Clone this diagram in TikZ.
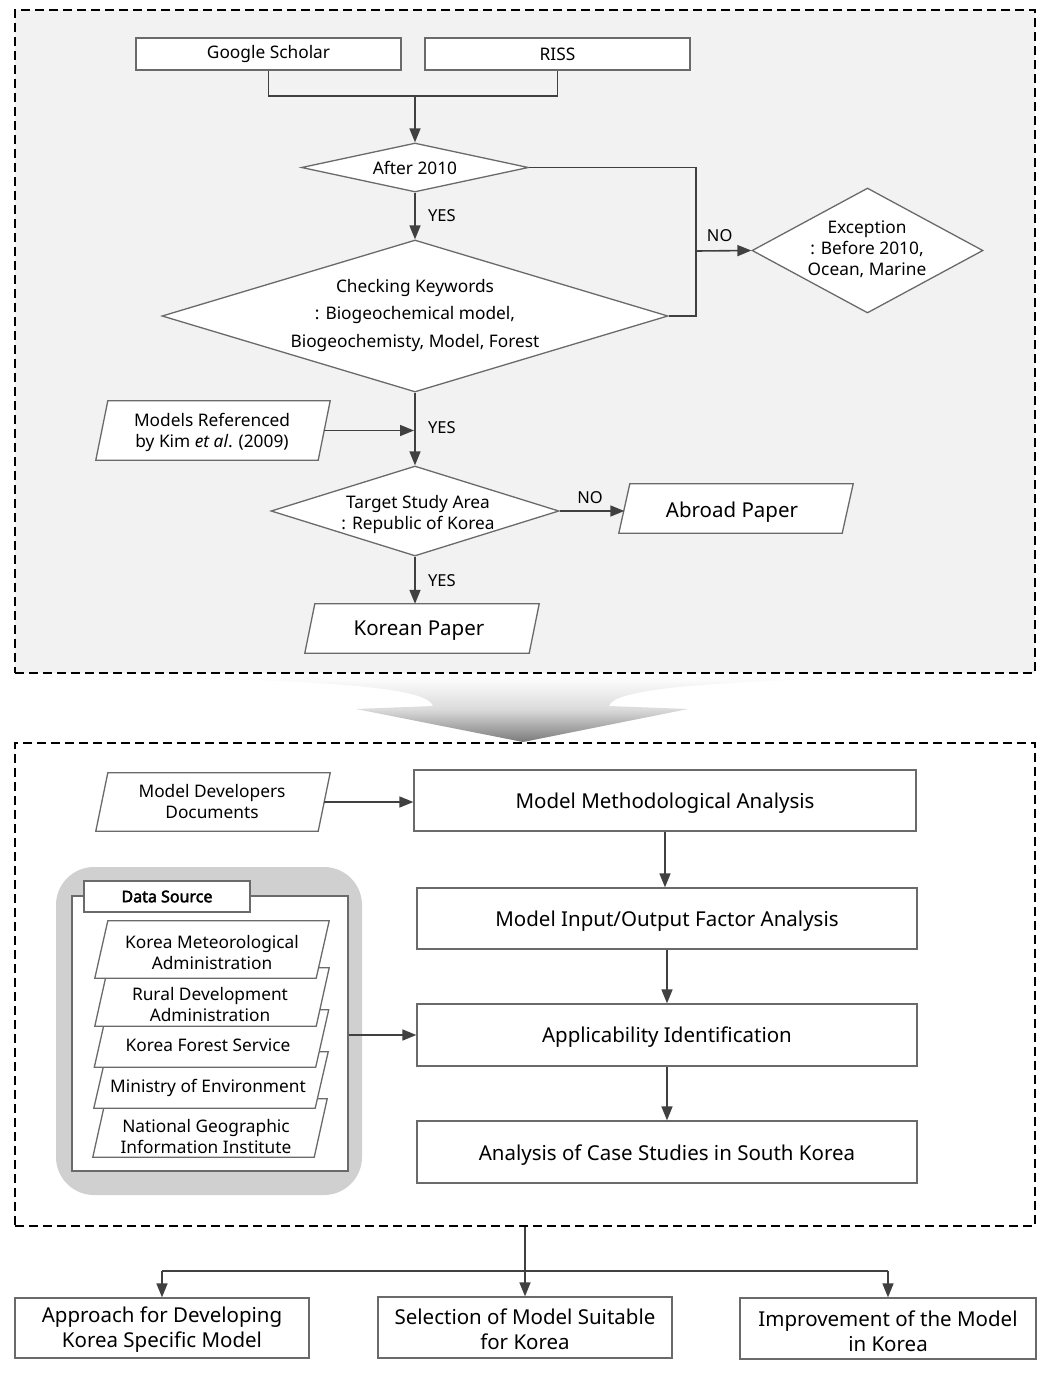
\documentclass[tikz,border=0pt]{standalone}
\usepackage{fontspec}
\setmainfont{Noto Sans}
\newfontfamily\dsbold{Noto Sans}[FakeBold=2.5]
\usetikzlibrary{shapes.geometric,arrows.meta}
\definecolor{topfill}{HTML}{F2F2F2}
\definecolor{dsgray}{HTML}{D0D0D0}
\definecolor{edge}{HTML}{6A6A6A}
\definecolor{arrc}{HTML}{404040}
\newcommand\parashape[2]{%
  \path[pline] ([xshift=#2]#1.north west) -- ([xshift=#2]#1.north east) -- ([xshift=-#2]#1.south east) -- ([xshift=-#2]#1.south west) -- cycle;}
\begin{document}
\begin{tikzpicture}[x=1pt,y=-1pt,
  sm/.style={font=\fontsize{17.3}{21}\selectfont, align=center},
  lg/.style={font=\fontsize{20.5}{25}\selectfont, align=center},
  rbox/.style={draw=edge, line width=1.3pt, fill=white, inner sep=0pt},
  pline/.style={draw=edge, line width=1.3pt, fill=white},
  dia/.style={diamond, draw=edge, line width=1.3pt, fill=white, inner sep=0pt, aspect=1},
  ghost/.style={inner sep=0pt},
  frame/.style={draw=black, line width=2.2pt, dash pattern=on 9pt off 5pt, inner sep=0pt},
  line/.style={draw=arrc, line width=1.6pt},
  arr/.style={draw=arrc, line width=1.6pt, -{Triangle[length=14pt,width=11pt]}},
  lab/.style={font=\fontsize{16.5}{18}\selectfont, text=black}
]
\useasboundingbox (0,0) rectangle (1052,1374);
\fill[white] (0,0) rectangle (1052,1374);

% ---------- top frame ----------
\node[frame, fill=topfill, minimum width=1020pt, minimum height=663pt] (f1) at (525,341.5) {};

\node[rbox, sm, minimum width=265pt, minimum height=32pt] (gs) at (268.5,54) {Google Scholar};
\node[rbox, sm, minimum width=265pt, minimum height=32pt] (riss) at (557.5,54) {RISS};
\coordinate (j1) at (415,96);
\draw[line] (gs.south) |- (j1) -| (riss.south);

\node[dia, minimum width=227pt, minimum height=49pt] (d1) at (415,167.5) {};
\node[sm] at (d1) {After 2010};
\draw[arr] (j1) -- (d1.north);

\node[dia, minimum width=506pt, minimum height=152pt] (d2) at (415,316) {};
\node[sm, font=\fontsize{17.3}{27.5}\selectfont] at (415,315) {Checking Keywords\\: Biogeochemical model,\\Biogeochemisty, Model, Forest};
\draw[arr] (d1.south) -- node[lab, right=9pt] {YES} (d2.north);

\node[dia, minimum width=231pt, minimum height=125pt] (exc) at (867.5,250.5) {};
\node[sm] at (867,249) {Exception\\: Before 2010,\\Ocean, Marine};
\coordinate (nx) at (696,251);
\draw[line] (d1.east) -| (nx) |- (d2.east);
\draw[arr] (nx) -- node[lab, above=5pt, xshift=-4pt] {NO} (exc.west);

\node[ghost, minimum width=222pt, minimum height=59pt] (mr) at (213,430.5) {};
\parashape{mr}{6}
\node[sm] at (212,432) {Models Referenced\\by Kim \textit{et al}. (2009)};

\node[dia, minimum width=288pt, minimum height=90pt] (d3) at (415,511) {};
\node[sm] at (418,514) {Target Study Area\\: Republic of Korea};
\draw[arr] (d2.south) -- node[lab, right=9pt, pos=0.48] {YES} (d3.north);
\draw[arr] (mr.east) -- ([xshift=-1pt]d2.south |- mr.east);

\node[ghost, minimum width=223pt, minimum height=49pt] (ab) at (736,508.5) {};
\parashape{ab}{5.5}
\node[lg] at (732,512) {Abroad Paper};
\draw[arr] (d3.east) -- node[lab, above=3pt, xshift=-2pt] {NO} (d3.east -| ab.west);

\node[ghost, minimum width=224pt, minimum height=49pt] (kp) at (422,628.5) {};
\parashape{kp}{5}
\node[lg] at (419,631) {Korean Paper};
\draw[arr] (d3.south) -- node[lab, right=9pt] {YES} (d3.south |- kp.north);

% ---------- funnel arrow ----------
\shade[top color=white, bottom color=black!52, middle color=black!14]
  (95,676) .. controls (360,680) and (428,690) .. (433,706)
  -- (356,709) -- (523,742) -- (688,709) -- (609,706)
  .. controls (614,690) and (690,680) .. (955,676) -- cycle;

% ---------- second frame ----------
\node[frame, minimum width=1020pt, minimum height=483pt] (f2) at (525,984.5) {};

\node[ghost, minimum width=222pt, minimum height=58pt] (md) at (213,802) {};
\parashape{md}{6}
\node[sm] at (212,802) {Model Developers\\Documents};

\node[rbox, lg, minimum width=502pt, minimum height=61pt] (mma) at (665,800.5) {};
\node[lg] at (665,803) {Model Methodological Analysis};
\node[rbox, lg, minimum width=500pt, minimum height=61pt] (mio) at (667,918.5) {};
\node[lg] at (667,921) {Model Input/Output Factor Analysis};
\node[rbox, lg, minimum width=500pt, minimum height=62pt] (ai) at (667,1035) {};
\node[lg] at (667,1037) {Applicability Identification};
\node[rbox, lg, minimum width=500pt, minimum height=62pt] (acs) at (667,1152) {};
\node[lg] at (667,1155) {Analysis of Case Studies in South Korea};
\draw[arr] (md.east) -- (md.east -| mma.west);
\draw[arr] (mma.south) -- (mma.south |- mio.north);
\draw[arr] (mio.south) -- (mio.south |- ai.north);
\draw[arr] (ai.south) -- (ai.south |- acs.north);

% data source
\node[fill=dsgray, rounded corners=38pt, minimum width=306pt, minimum height=328pt, inner sep=0pt] (dsout) at (209,1031) {};
\node[rbox, minimum width=276pt, minimum height=275pt] (dsin) at (210,1033.5) {};
\node[rbox, minimum width=166pt, minimum height=31pt, font=\dsbold\fontsize{16}{18}\selectfont] (tab) at (167,896.5) {Data Source};

\node[ghost, minimum width=221pt, minimum height=58pt] (s5) at (210,1128) {};
\node[ghost, minimum width=221pt, minimum height=56pt] (s4) at (211,1080) {};
\node[ghost, minimum width=221pt, minimum height=57pt] (s3) at (211.5,1038.5) {};
\node[ghost, minimum width=221pt, minimum height=58pt] (s2) at (212,997) {};
\node[ghost, minimum width=221pt, minimum height=57pt] (s1) at (212,949.5) {};
\parashape{s5}{6.5}
\parashape{s4}{6.5}
\parashape{s3}{6.5}
\parashape{s2}{6.5}
\parashape{s1}{6.5}
\node[sm] at (212,952) {Korea Meteorological\\Administration};
\node[sm] at (210,1004) {Rural Development\\Administration};
\node[sm] at (208,1045) {Korea Forest Service};
\node[sm] at (208,1088) {Ministry of Environment};
\node[sm] at (206,1136) {National Geographic\\Information Institute};
\draw[arr] (ai.west -| dsin.east) -- (ai.west);

% ---------- bottom ----------
\node[rbox, lg, minimum width=294pt, minimum height=60pt] (b1) at (162,1328) {};
\node[lg] at (162,1330) {Approach for Developing\\Korea Specific Model};
\node[rbox, lg, minimum width=294pt, minimum height=61pt] (b2) at (525,1327.5) {};
\node[lg] at (525,1329) {Selection of Model Suitable\\for Korea};
\node[rbox, lg, minimum width=296pt, minimum height=61pt] (b3) at (888,1328.5) {};
\node[lg] at (888,1331) {Improvement of the Model\\in Korea};
\coordinate (hl) at (525,1271);
\draw[line] (b1.north |- hl) -- (b3.north |- hl);
\draw[arr] (f2.south) -- (b2.north);
\draw[arr] (b1.north |- hl) -- (b1.north);
\draw[arr] (b3.north |- hl) -- (b3.north);
\end{tikzpicture}
\end{document}
